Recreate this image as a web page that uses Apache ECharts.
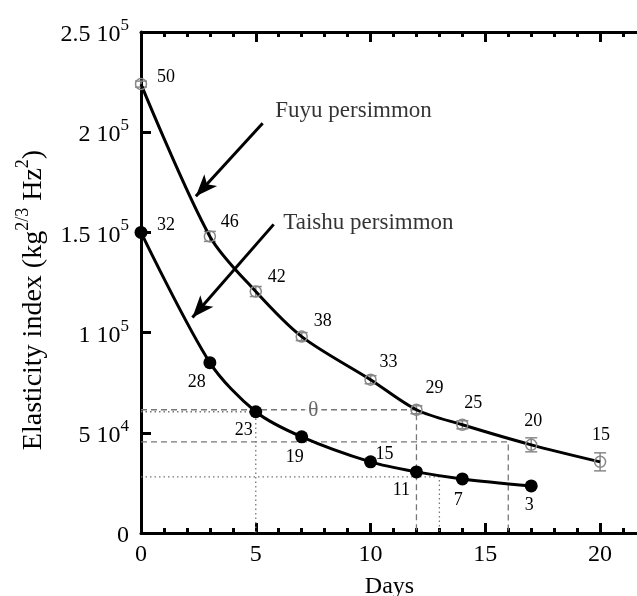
<!DOCTYPE html>
<html><head><meta charset="utf-8">
<script src="https://cdn.jsdelivr.net/npm/echarts@6/dist/echarts.min.js"></script>
<style>html,body{margin:0;padding:0;background:#fff}#c{width:637px;height:596px}</style>
</head><body><div id="c"></div><script>
// ---- data ----
const fuyuDays   = [0, 3, 5, 7, 10, 12, 14, 17, 20];
const fuyuValues = [224000, 148000, 120500, 98000, 76500, 61500, 54000, 44000, 35500];
const fuyuErr    = [1500, 2500, 2500, 2000, 2000, 2000, 2000, 3500, 4500];
const fuyuN      = [50, 46, 42, 38, 33, 29, 25, 20, 15];

const taishuDays   = [0, 3, 5, 7, 10, 12, 14, 17];
const taishuValues = [150000, 85000, 60500, 48000, 35500, 30500, 27000, 23500];
const taishuN      = [32, 28, 23, 19, 15, 11, 7, 3];

const xTicks = [0, 5, 10, 15, 20];
const yTicks = [0, 50000, 100000, 150000, 200000, 250000];

// guide lines (day, value)
const dashedGuides = [
  [[0, 61500], [12, 61500], [12, 0]],
  [[0, 45500], [16, 45500], [16, 0]]
];
const dottedGuides = [
  [[0, 60500], [5, 60500], [5, 0]],
  [[0, 28000], [13, 28000], [13, 0]]
];

// annotations
const annoTexts = ['Fuyu persimmon', 'Taishu persimmon'];
const annoAt    = [[5.85, 210500], [6.2, 154500]];
const arrowFrom = [[5.3, 204500], [5.78, 154000]];
const arrowTo   = [[2.39, 168000], [2.24, 107500]];
const thetaAt   = [7.5, 61500];

// label offsets (px) for the sample counts
const fuyuLabelOff   = [[25,-7],[20,-14],[21,-14],[21,-15],[18,-17],[18,-21],[11,-22],[2,-24],[1,-27]];
const taishuLabelOff = [[25,-7],[-13,20],[-12,19],[-7,20],[14,-8],[-15,18],[-4,21],[-2,19]];

const FONT = 'Liberation Serif';
const chart = echarts.init(document.getElementById('c'));

function yFmt(v) {
  if (v === 0) return '{b|0}';
  const e = Math.floor(Math.log10(v) + 1e-9);
  const m = +(v / Math.pow(10, e)).toFixed(2);
  return '{b|' + m + ' 10}{s|' + e + '}';
}
const yRich = {
  b: { fontFamily: FONT, fontSize: 24, color: '#000', lineHeight: 30, verticalAlign: 'bottom' },
  s: { fontFamily: FONT, fontSize: 17, color: '#000', lineHeight: 30, verticalAlign: 'top' }
};

const axisLineStyle = { color: '#000', width: 3 };
function xAx(pos, interval, len, showLine, showLabel) {
  const a = {
    type: 'value', position: pos, min: 0, max: 22, interval: interval, gridIndex: 0,
    axisLine: { show: showLine, lineStyle: axisLineStyle, onZero: false },
    axisTick: { show: true, inside: true, length: len, lineStyle: { color: '#000', width: 3 } },
    axisLabel: { show: showLabel, fontFamily: FONT, fontSize: 24, color: '#000', margin: 10,
      formatter: v => (xTicks.indexOf(v) >= 0 ? String(v) : '') },
    splitLine: { show: false }
  };
  if (showLabel) {
    a.name = 'Days'; a.nameLocation = 'middle'; a.nameGap = 42;
    a.nameTextStyle = { fontFamily: FONT, fontSize: 24, color: '#000', padding: [0, 8, 0, 0] };
  }
  return a;
}
function yAx(pos, showLabel) {
  return {
    type: 'value', position: pos, min: 0, max: 250000, interval: 50000,
    axisLine: { show: true, lineStyle: axisLineStyle, onZero: false },
    axisTick: { show: true, inside: true, length: showLabel ? 10 : 8, lineStyle: { color: '#000', width: 3 } },
    axisLabel: { show: showLabel, margin: 12, formatter: yFmt, rich: yRich },
    splitLine: { show: false }
  };
}

function zipPts(xs, ys, offs) {
  return xs.map((x, i) => ({ value: [x, ys[i]], label: { offset: offs[i] } }));
}

const guideSeries = [];
dashedGuides.forEach(g => guideSeries.push({
  type: 'line', data: g, symbol: 'none', silent: true, z: 1,
  lineStyle: { color: '#777', width: 1.3, type: [6, 4] }
}));
dottedGuides.forEach(g => guideSeries.push({
  type: 'line', data: g, symbol: 'none', silent: true, z: 1,
  lineStyle: { color: '#777', width: 1.3, type: [1.5, 3] }
}));

const errData = fuyuDays.map((x, i) => [x, fuyuValues[i], fuyuErr[i]]);

chart.setOption({
  animation: false,
  backgroundColor: '#fff',
  grid: { left: 141, top: 32, width: 505, height: 501, containLabel: false, outerBoundsMode: 'none' },
  xAxis: [
    xAx('bottom', 5, 10, true, true),
    xAx('bottom', 1, 5, false, false),
    xAx('top', 5, 10, true, false),
    xAx('top', 1, 5, false, false)
  ],
  yAxis: [yAx('left', true), yAx('right', false)],
  graphic: [{
    type: 'text', x: 31, y: 300, rotation: Math.PI / 2, silent: true,
    style: {
      text: '{b|Elasticity index (kg}{s|2/3}{b| Hz}{s|2}{b|)}',
      align: 'center', verticalAlign: 'middle',
      rich: {
        b: { fontFamily: FONT, fontSize: 28, fill: '#000', lineHeight: 34, verticalAlign: 'bottom' },
        s: { fontFamily: FONT, fontSize: 18, fill: '#000', lineHeight: 34, verticalAlign: 'top' }
      }
    }
  }],
  series: guideSeries.concat([
    {
      type: 'custom', z: 3, silent: true,
      data: errData,
      renderItem: function (params, api) {
        const x = api.value(0), y = api.value(1), e = api.value(2);
        const top = api.coord([x, y + e]);
        const bot = api.coord([x, y - e]);
        const w = 6;
        const st = { stroke: '#888', lineWidth: 1.5 };
        return { type: 'group', children: [
          { type: 'line', shape: { x1: top[0], y1: top[1], x2: bot[0], y2: bot[1] }, style: st },
          { type: 'line', shape: { x1: top[0] - w, y1: top[1], x2: top[0] + w, y2: top[1] }, style: st },
          { type: 'line', shape: { x1: bot[0] - w, y1: bot[1], x2: bot[0] + w, y2: bot[1] }, style: st }
        ] };
      }
    },
    {
      name: 'Fuyu', type: 'line', z: 4, smooth: 0.3,
      data: zipPts(fuyuDays, fuyuValues, fuyuLabelOff),
      lineStyle: { color: '#000', width: 3 },
      symbol: 'circle', symbolSize: 11,
      itemStyle: { color: 'rgba(255,255,255,0)', borderColor: '#888', borderWidth: 1.5 },
      label: { show: true, position: 'inside', fontFamily: FONT, fontSize: 18, color: '#000',
        formatter: p => String(fuyuN[p.dataIndex]) }
    },
    {
      name: 'Taishu', type: 'line', z: 4, smooth: 0.3,
      data: zipPts(taishuDays, taishuValues, taishuLabelOff),
      lineStyle: { color: '#000', width: 3 },
      symbol: 'circle', symbolSize: 13,
      itemStyle: { color: '#000' },
      label: { show: true, position: 'inside', fontFamily: FONT, fontSize: 18, color: '#000',
        formatter: p => String(taishuN[p.dataIndex]) }
    },
    {
      type: 'scatter', z: 5, silent: true, symbolSize: 1,
      itemStyle: { color: 'rgba(0,0,0,0)' },
      data: annoAt.map((p, i) => ({ value: p, name: annoTexts[i] })),
      label: { show: true, position: 'inside', align: 'left', verticalAlign: 'middle',
        fontFamily: FONT, fontSize: 23, color: '#000', formatter: p => p.name },
      markLine: {
        silent: true, symbol: ['none', 'arrow'], symbolSize: [13, 22],
        lineStyle: { color: '#000', width: 3, type: 'solid' },
        label: { show: false },
        data: arrowFrom.map((f, i) => [{ coord: f }, { coord: arrowTo[i] }])
      }
    },
    {
      type: 'scatter', z: 2, silent: true, symbolSize: 1,
      itemStyle: { color: 'rgba(0,0,0,0)' },
      data: [thetaAt],
      label: { show: true, position: 'inside', fontFamily: FONT, fontSize: 22, color: '#444',
        backgroundColor: '#fff', padding: [0, 3], formatter: 'θ' }
    }
  ])
});
</script></body></html>
